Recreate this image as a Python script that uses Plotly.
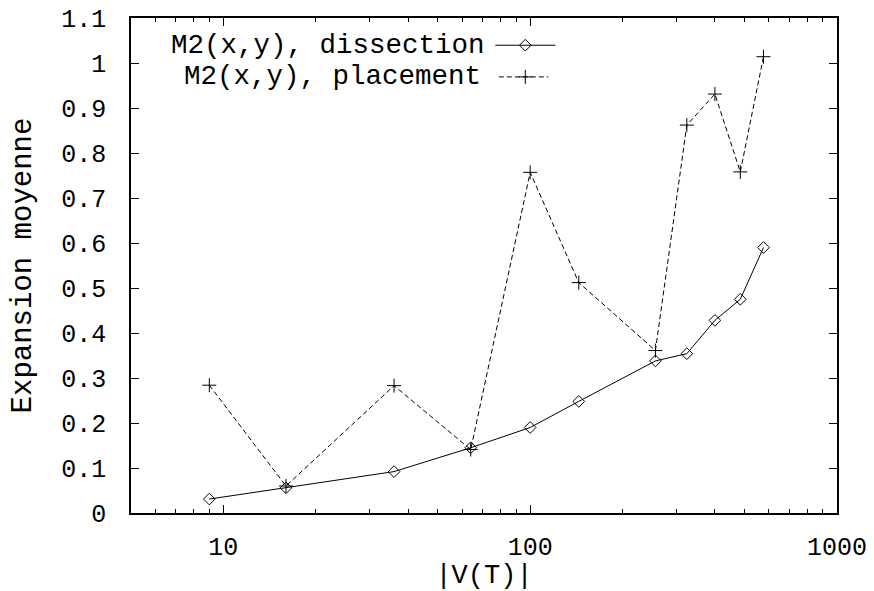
import plotly.graph_objects as go

# |V(T)| sizes and mean expansion for the two methods
sizes = [9, 16, 36, 64, 100, 144, 256, 324, 400, 484, 576]
dissection = [0.031, 0.056, 0.092, 0.145, 0.190, 0.248, 0.338, 0.354, 0.428, 0.475, 0.590]
placement = [0.284, 0.060, 0.283, 0.141, 0.757, 0.512, 0.361, 0.862, 0.931, 0.758, 1.014]

series_names = ["M2(x,y), dissection", "M2(x,y), placement"]
x_tick_vals = [10, 100, 1000]
x_tick_text = ["10", "100", "1000"]
x_minor_vals = [5, 6, 7, 8, 9, 20, 30, 40, 50, 60, 70, 80, 90,
                200, 300, 400, 500, 600, 700, 800, 900]

FONT = "Liberation Mono, Courier New, monospace"
BLACK = "#000000"
DASH = "5px,3px"

fig = go.Figure()

fig.add_trace(go.Scatter(
    x=sizes, y=dissection, mode="lines+markers", name=series_names[0],
    line=dict(color=BLACK, width=1),
    marker=dict(symbol="diamond-open", size=9, color=BLACK, line=dict(width=1, color=BLACK)),
    showlegend=False,
))
fig.add_trace(go.Scatter(
    x=sizes, y=placement, mode="lines+markers", name=series_names[1],
    line=dict(color=BLACK, width=1, dash=DASH),
    marker=dict(symbol="cross-thin-open", size=10, color=BLACK, line=dict(width=1, color=BLACK)),
    showlegend=False,
))

# key samples drawn on an overlay axis spanning the plot area in [0, 1]
key_rows = [0.945, 0.881]
key_x0, key_x1, key_text_x = 0.516, 0.601, 0.504
fig.add_trace(go.Scatter(
    x=[key_x0, key_x1], y=[key_rows[0]] * 2, xaxis="x2", yaxis="y2",
    mode="lines", line=dict(color=BLACK, width=1), showlegend=False, hoverinfo="skip"))
fig.add_trace(go.Scatter(
    x=[(key_x0 + key_x1) / 2], y=[key_rows[0]], xaxis="x2", yaxis="y2",
    mode="markers", marker=dict(symbol="diamond-open", size=9, color=BLACK, line=dict(width=1)),
    showlegend=False, hoverinfo="skip"))
fig.add_trace(go.Scatter(
    x=[key_x0 + 0.005, key_x1 - 0.01], y=[key_rows[1]] * 2, xaxis="x2", yaxis="y2",
    mode="lines", line=dict(color=BLACK, width=1, dash=DASH), showlegend=False, hoverinfo="skip"))
fig.add_trace(go.Scatter(
    x=[(key_x0 + key_x1) / 2], y=[key_rows[1]], xaxis="x2", yaxis="y2",
    mode="markers", marker=dict(symbol="cross-thin-open", size=10, color=BLACK, line=dict(width=1)),
    showlegend=False, hoverinfo="skip"))

for name, row, dx in zip(series_names, key_rows, [0.0, -0.005]):
    fig.add_annotation(
        x=key_text_x + dx, y=row, xref="paper", yref="paper", text=name,
        showarrow=False, xanchor="right", yanchor="middle",
        font=dict(family=FONT, size=27.5, color=BLACK))

fig.update_layout(
    width=874, height=591,
    margin=dict(l=131, r=37, t=18, b=78, autoexpand=False),
    paper_bgcolor="white", plot_bgcolor="white",
    font=dict(family=FONT, color=BLACK, size=25),
    xaxis=dict(
        type="log", range=[0.69897, 3.0], automargin=False,
        tickmode="array", tickvals=x_tick_vals, ticktext=x_tick_text,
        ticks="inside", ticklen=8, tickwidth=1, tickcolor=BLACK,
        minor=dict(tickmode="array", tickvals=x_minor_vals, ticks="inside",
                   ticklen=4, tickwidth=1, tickcolor=BLACK, showgrid=False),
        showline=True, linecolor=BLACK, linewidth=1.5, mirror="ticks",
        showgrid=False, zeroline=False,
        tickfont=dict(family=FONT, size=25, color=BLACK),
        ticklabelstandoff=10,
        title=dict(text="|V(T)|", font=dict(family=FONT, size=27, color=BLACK), standoff=0),
    ),
    yaxis=dict(
        range=[0, 1.1], dtick=0.1, tick0=0, automargin=False,
        ticks="inside", ticklen=8, tickwidth=1, tickcolor=BLACK,
        showline=True, linecolor=BLACK, linewidth=1.5, mirror="ticks",
        showgrid=False, zeroline=False,
        tickfont=dict(family=FONT, size=25, color=BLACK),
        ticklabelstandoff=18,
        title=dict(text="Expansion moyenne", font=dict(family=FONT, size=29, color=BLACK), standoff=21),
    ),
    xaxis2=dict(overlaying="x", range=[0, 1], visible=False, fixedrange=True),
    yaxis2=dict(overlaying="y", range=[0, 1], visible=False, fixedrange=True),
)

fig.write_html("out.html")
